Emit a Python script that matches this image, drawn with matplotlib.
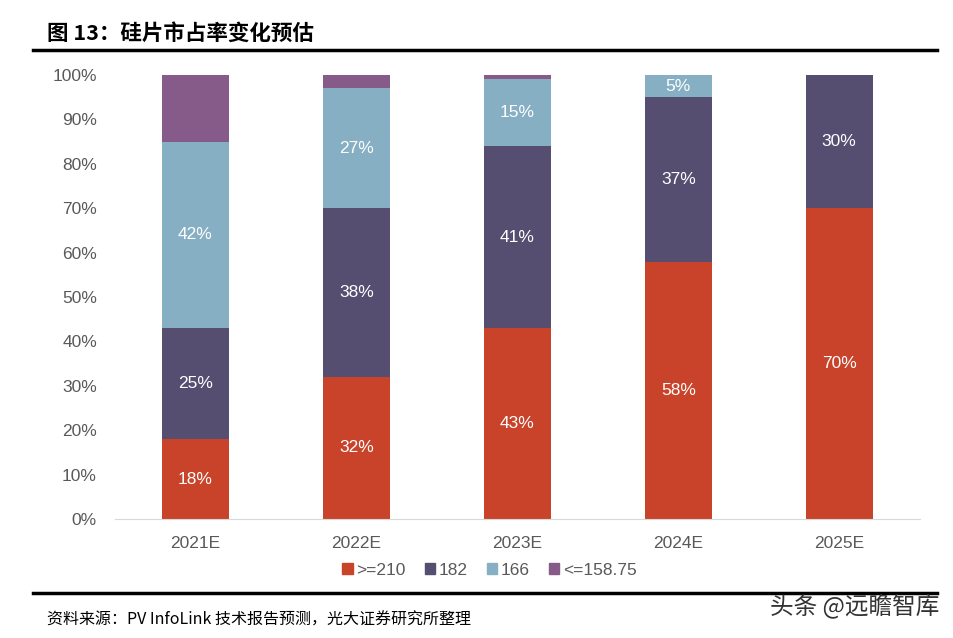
import numpy as np
import matplotlib.pyplot as plt
from matplotlib.patches import Patch

plt.rcParams['font.family'] = ['Liberation Sans', 'Noto Sans CJK SC', 'DejaVu Sans']

years = ['2021E', '2022E', '2023E', '2024E', '2025E']
series_names = ['>=210', '182', '166', '<=158.75']
s210 = [18, 32, 43, 58, 70]
s182 = [25, 38, 41, 37, 30]
s166 = [42, 27, 15, 5, 0]
s158 = [15, 3, 1, 0, 0]
colors = ['#C8432A', '#554E71', '#86AFC3', '#865A89']
show_labels = [True, True, True, False]

fig = plt.figure(figsize=(9.54, 6.38), dpi=100)
ax = fig.add_axes([0.1205, 0.1865, 0.8435, 0.6959])

x = np.arange(len(years))
bottom = np.zeros(len(years))
for vals, c, lab in zip([s210, s182, s166, s158], colors, show_labels):
    vals = np.array(vals, dtype=float)
    ax.bar(x, vals, 0.416, bottom=bottom, color=c, zorder=2)
    if lab:
        for xi, v, b in zip(x, vals, bottom):
            if v > 0:
                ax.text(xi, b + v / 2, f'{int(v)}%', ha='center', va='center',
                        color='white', fontsize=12.5)
    bottom += vals

ax.set_xlim(-0.5, 4.5)
ax.set_ylim(0, 100)
ax.set_yticks(np.arange(0, 101, 10))
ax.set_yticklabels([f'{v}%' for v in range(0, 101, 10)])
ax.set_xticks(x)
ax.set_xticklabels(years)
ax.tick_params(axis='both', length=0, labelsize=12.5, colors='#595959', pad=12)
ax.tick_params(axis='y', pad=13)
for s in ['top', 'right', 'left']:
    ax.spines[s].set_visible(False)
ax.spines['bottom'].set_color('#D9D9D9')

handles = [Patch(color=c) for c in colors]
leg = fig.legend(handles, series_names, loc='center', bbox_to_anchor=(0.513, 0.106),
                 ncol=4, frameon=False, fontsize=12.5, handlelength=0.6, handleheight=0.6,
                 handletextpad=0.2, columnspacing=1.1)
for t in leg.get_texts():
    t.set_color('#595959')

fig.text(0.049, 0.948, '图 13：硅片市占率变化预估', fontsize=15.5, fontweight='bold',
         ha='left', va='center', family=['Noto Sans CJK SC', 'DejaVu Sans'])
fig.add_artist(plt.Line2D([0.035, 0.982], [0.921, 0.921], color='black', lw=2.5))
fig.add_artist(plt.Line2D([0.035, 0.982], [0.071, 0.071], color='black', lw=2.5))
fig.text(0.049, 0.028, '资料来源：PV InfoLink 技术报告预测，光大证券研究所整理', fontsize=11.5,
         ha='left', va='center', family=['Noto Sans CJK SC', 'DejaVu Sans'])
fig.text(0.985, 0.05, '头条 @远瞻智库', fontsize=17, ha='right', va='center', color='#333333',
         family=['Noto Sans CJK SC', 'DejaVu Sans'])

fig.savefig('out.png', dpi=100)
